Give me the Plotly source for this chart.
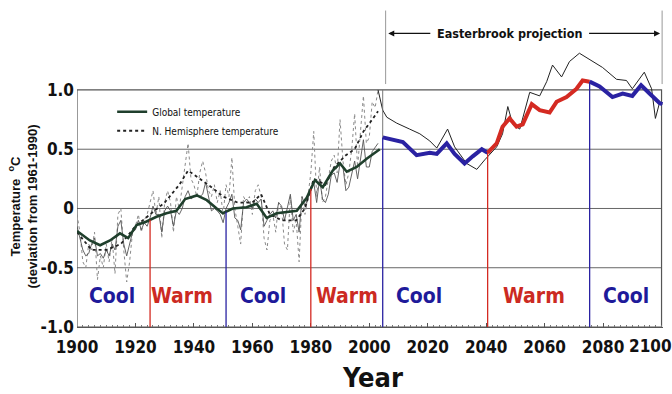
import numpy as np
import plotly.graph_objects as go

# ---------------- data ----------------
years_annual = list(range(1900, 2004))
nh_annual = [-0.05, -0.20, -0.45, -0.50, -0.30, -0.35, -0.20, -0.60, -0.40, -0.50,
             -0.30, -0.45, -0.25, -0.55, -0.05, 0.00, -0.35, -0.62, -0.45, -0.20,
             -0.15, -0.05, -0.20, -0.10, -0.05, 0.05, 0.15, -0.05, 0.10, -0.25,
             0.05, 0.15, 0.05, -0.20, 0.10, 0.00, 0.20, 0.35, 0.55, 0.25,
             0.20, 0.10, 0.30, 0.40, 0.30, 0.15, 0.10, 0.20, 0.05, 0.15,
             -0.05, 0.20, 0.10, 0.43, 0.00, -0.15, -0.30, 0.10, 0.05, 0.10,
             -0.05, 0.15, 0.20, 0.10, -0.25, -0.35, -0.10, -0.05, -0.20, 0.05,
             0.00, -0.30, -0.35, 0.10, -0.20, -0.10, -0.45, 0.10, -0.05, 0.10,
             0.30, 0.65, 0.10, 0.35, 0.05, 0.10, 0.25, 0.40, 0.45, 0.30,
             0.75, 0.40, 0.20, 0.30, 0.50, 0.80, 0.35, 0.65, 0.95, 0.55,
             0.60, 0.90, 0.85, 1.00]
global_annual = [-0.15, -0.25, -0.35, -0.40, -0.38, -0.30, -0.25, -0.40, -0.38, -0.42,
                 -0.35, -0.40, -0.30, -0.35, -0.15, -0.10, -0.30, -0.40, -0.30, -0.20,
                 -0.18, -0.10, -0.18, -0.12, -0.15, -0.08, 0.02, -0.05, -0.05, -0.20,
                 -0.02, 0.02, -0.02, -0.15, -0.02, -0.05, 0.00, 0.10, 0.15, 0.08,
                 0.10, 0.12, 0.10, 0.12, 0.22, 0.10, -0.02, 0.00, -0.02, -0.05,
                 -0.12, 0.00, 0.05, 0.12, -0.08, -0.10, -0.18, 0.05, 0.08, 0.05,
                 0.00, 0.08, 0.05, 0.08, -0.15, -0.10, -0.05, -0.02, -0.08, 0.05,
                 0.02, -0.10, 0.00, 0.12, -0.10, -0.05, -0.20, 0.10, 0.02, 0.08,
                 0.15, 0.22, 0.05, 0.25, 0.08, 0.05, 0.12, 0.28, 0.30, 0.22,
                 0.38, 0.35, 0.15, 0.18, 0.28, 0.40, 0.25, 0.42, 0.58, 0.35,
                 0.35, 0.48, 0.52, 0.55]

global_smooth_years = [1900, 1904.4, 1907.9, 1911.3, 1914.7, 1917.5, 1920.4, 1923.8, 1927.2,
                       1930.6, 1934, 1937, 1941, 1944.4, 1947.8, 1949.9, 1953.3, 1958,
                       1961.5, 1964.9, 1968.3, 1971.7, 1975.2, 1978.6, 1981.4, 1984.1,
                       1987.5, 1990, 1992.3, 1995.7, 1999.1, 2003.6]
global_smooth = [-0.19, -0.27, -0.31, -0.27, -0.21, -0.25, -0.14, -0.11, -0.07,
                 -0.04, -0.02, 0.08, 0.11, 0.07, 0.00, -0.04, 0.00, 0.01,
                 0.04, -0.08, -0.04, -0.03, -0.02, 0.09, 0.24, 0.18,
                 0.32, 0.38, 0.31, 0.35, 0.42, 0.50]

nh_smooth_years = [1900, 1905, 1910, 1915, 1920, 1925, 1930, 1935, 1938, 1942, 1946,
                   1950, 1955, 1960, 1963, 1966, 1970, 1975, 1978, 1981, 1985, 1988,
                   1992, 1995, 1998, 2001, 2003]
nh_smooth = [-0.20, -0.35, -0.35, -0.30, -0.15, -0.05, 0.05, 0.20, 0.32, 0.25, 0.18,
             0.10, 0.05, 0.05, 0.12, -0.05, -0.10, -0.10, 0.00, 0.25, 0.20, 0.35,
             0.45, 0.50, 0.65, 0.75, 0.82]

proj_years = [2004.6, 2011.5, 2016.2, 2020.7, 2023.1, 2026.5, 2029.2, 2032.6, 2035.4,
              2038.5, 2040.5, 2043.6, 2045.6, 2048, 2050.4, 2052.5, 2055.6, 2058.3,
              2061.7, 2064.1, 2067.5, 2070.9, 2073, 2075.4, 2078.8, 2083.2, 2086.7,
              2090, 2093, 2095.9, 2099.3, 2100.3]
proj_vals = [0.60, 0.56, 0.45, 0.47, 0.46, 0.55, 0.46, 0.38, 0.44,
             0.50, 0.47, 0.55, 0.69, 0.76, 0.69, 0.71, 0.88, 0.83,
             0.81, 0.90, 0.94, 1.01, 1.08, 1.07, 1.03, 0.94, 0.97,
             0.95, 1.04, 0.97, 0.89, 0.88]

nh_proj_years = [2003, 2004.6, 2006, 2009.4, 2013.8, 2017.3, 2020.7, 2023.1, 2026.8,
                 2029.2, 2033.3, 2036.8, 2039.5, 2043.6, 2045.6, 2047.4, 2049.1,
                 2051.5, 2054.9, 2058.3, 2060.7, 2062.7, 2065.8, 2068.5, 2071.9,
                 2075.4, 2079.8, 2084.6, 2088, 2090, 2094.1, 2096.6, 2097.9, 2099.3,
                 2100.3]
nh_proj = [1.00, 0.83, 0.77, 0.72, 0.67, 0.63, 0.57, 0.51, 0.67,
           0.52, 0.38, 0.33, 0.41, 0.52, 0.63, 0.86, 0.71,
           0.67, 0.98, 0.95, 1.07, 1.21, 1.11, 1.24, 1.31,
           1.26, 1.19, 1.09, 1.08, 1.01, 1.15, 1.01, 0.76, 0.89,
           0.88]

period_bounds = [1925, 1951, 1980, 2004.6, 2040.5, 2075.4]
period_labels = ["Cool", "Warm", "Cool", "Warm", "Cool", "Warm", "Cool"]
label_years = [1912, 1936, 1963.5, 1992.5, 2017, 2056.5, 2088]
x_ticks = [1900, 1920, 1940, 1960, 1980, 2000, 2020, 2040, 2060, 2080]
last_tick = 2100
y_ticks = [-1.0, -0.5, 0, 0.5, 1.0]
y_tick_text = ["-1.0", "-0.5", "0", "0.5", "1.0"]

# ---------------- styles ----------------
BLUE = "#2a22a2"
RED = "#d42a22"
COOL_C = "#1e1a9a"
WARM_C = "#cc2a22"
NARROW = "DejaVu Sans Condensed, Liberation Sans Narrow, Arial Narrow, Liberation Sans, Arial"
WIDE = "Liberation Sans, Arial"

fig = go.Figure()

fig.add_trace(go.Scatter(x=years_annual, y=nh_annual, mode="lines",
                         line=dict(color="#8a8a8a", width=1, dash="dot"),
                         showlegend=False, hoverinfo="skip"))
fig.add_trace(go.Scatter(x=years_annual, y=global_annual, mode="lines",
                         line=dict(color="#555555", width=0.9),
                         showlegend=False, hoverinfo="skip"))
fig.add_trace(go.Scatter(x=nh_smooth_years, y=nh_smooth, mode="lines",
                         name="N. Hemisphere temperature",
                         line=dict(color="#222222", width=1.8, dash="dot")))
fig.add_trace(go.Scatter(x=global_smooth_years, y=global_smooth, mode="lines",
                         name="Global temperature",
                         line=dict(color="#1f3f2c", width=2.6)))
fig.add_trace(go.Scatter(x=nh_proj_years, y=nh_proj, mode="lines",
                         line=dict(color="#222222", width=1),
                         showlegend=False, hoverinfo="skip"))

# Easterbrook projection split into cool / warm segments
py = np.array(proj_years)
pv = np.array(proj_vals)
segs = [(period_bounds[3], period_bounds[4], BLUE),
        (period_bounds[4], period_bounds[5], RED),
        (period_bounds[5], py.max(), BLUE)]
for a, b, c in segs:
    m = (py >= a - 1e-9) & (py <= b + 1e-9)
    fig.add_trace(go.Scatter(x=py[m], y=pv[m], mode="lines",
                             line=dict(color=c, width=4),
                             showlegend=False, hoverinfo="skip"))

shapes = []
for gv in [0.5, 0, -0.5]:
    shapes.append(dict(type="line", x0=1900, x1=2100, y0=gv, y1=gv, xref="x", yref="y",
                       line=dict(color="#666666", width=1), layer="below"))
shapes.append(dict(type="rect", x0=1900, x1=2100, y0=-1, y1=1, xref="x", yref="y",
                   line=dict(color="#555555", width=1.2), layer="below"))

gx = np.array(global_smooth_years)
gv_ = np.array(global_smooth)
for i, b in enumerate(period_bounds):
    col = RED if i % 2 == 0 else BLUE
    if b <= 2003.7:
        top = float(np.interp(b, gx, gv_))
    else:
        top = float(np.interp(b, py, pv))
    shapes.append(dict(type="line", x0=b, x1=b, y0=-1, y1=top, xref="x", yref="y",
                       line=dict(color=col, width=1.3)))
shapes.append(dict(type="line", x0=period_bounds[3], x1=period_bounds[3],
                   y0=proj_vals[0], y1=1.0, xref="x", yref="y",
                   line=dict(color="#777777", width=1)))
for bx in [2005.6, 2100.2]:
    shapes.append(dict(type="line", x0=bx, x1=bx, y0=1.05, y1=1.67, xref="x", yref="y",
                       line=dict(color="#999999", width=1)))

annotations = []
for lab, yx in zip(period_labels, label_years):
    annotations.append(dict(x=yx, y=-0.74, xref="x", yref="y", text="<b>%s</b>" % lab,
                            showarrow=False,
                            font=dict(family=NARROW, size=21,
                                      color=COOL_C if lab == "Cool" else WARM_C),
                            xanchor="center", yanchor="middle"))

arrow_y = 1.477
annotations.append(dict(x=2006.5, y=arrow_y, ax=2021.4, ay=arrow_y, xref="x", yref="y",
                        axref="x", ayref="y", text="", showarrow=True, arrowhead=2,
                        arrowsize=1, arrowwidth=1.2, arrowcolor="#111111"))
annotations.append(dict(x=2099.5, y=arrow_y, ax=2074.7, ay=arrow_y, xref="x", yref="y",
                        axref="x", ayref="y", text="", showarrow=True, arrowhead=2,
                        arrowsize=1, arrowwidth=1.2, arrowcolor="#111111"))
annotations.append(dict(x=2048, y=arrow_y, xref="x", yref="y",
                        text="<b>Easterbrook projection</b>", showarrow=False,
                        font=dict(family=NARROW, size=12.5, color="#111111"),
                        xanchor="center", yanchor="middle"))

# last x tick label, nudged left as in the reference
annotations.append(dict(x=last_tick, y=-0.058, xref="x", yref="paper",
                        text="<b>%d</b>" % last_tick,
                        showarrow=False, xshift=-11, yanchor="middle", xanchor="center",
                        font=dict(family=NARROW, size=17, color="#111111")))

# y axis title
annotations.append(dict(x=-0.093, y=0.375, xref="paper", yref="paper",
                        text="<b>Temperature  <sup>o</sup>C</b><br><b>(deviation from 1961-1990)</b>",
                        showarrow=False, textangle=-90,
                        font=dict(family=WIDE, size=13, color="#111111"),
                        xanchor="center", yanchor="middle"))
# x axis title
annotations.append(dict(x=0.505, y=-0.159, xref="paper", yref="paper", text="<b>Year</b>",
                        showarrow=False,
                        font=dict(family=NARROW, size=27, color="#111111"),
                        xanchor="center", yanchor="middle"))

fig.update_layout(
    width=672, height=394,
    margin=dict(l=77, r=9, t=7, b=67),
    paper_bgcolor="white", plot_bgcolor="white",
    shapes=shapes, annotations=annotations,
    showlegend=True,
    legend=dict(x=0.06, y=0.718, xanchor="left", yanchor="top",
                bgcolor="rgba(0,0,0,0)", itemwidth=30, tracegroupgap=0,
                font=dict(family=NARROW, size=10, color="#111111"),
                traceorder="reversed"),
    xaxis=dict(range=[1900, 2100.5], tickvals=x_ticks,
               ticktext=["<b>%d</b>" % t for t in x_ticks],
               showgrid=False, zeroline=False, showline=True, linecolor="#555555",
               linewidth=1.2, ticks="inside", ticklen=4, tickcolor="#555555",
               ticklabelstandoff=4,
               minor=dict(dtick=2, ticks="inside", ticklen=2, tickcolor="#777777"),
               tickfont=dict(family=NARROW, size=17, color="#111111")),
    yaxis=dict(range=[-1.0, 1.7], tickvals=y_ticks,
               ticktext=["<b>%s</b>" % t for t in y_tick_text],
               showgrid=False, zeroline=False, showline=False, ticks="",
               ticklabelstandoff=2,
               tickfont=dict(family=NARROW, size=17, color="#111111")),
)

fig.write_html("out.html", config={"displayModeBar": False},
               post_script="document.body.style.margin='0';document.body.style.overflow='hidden';")
